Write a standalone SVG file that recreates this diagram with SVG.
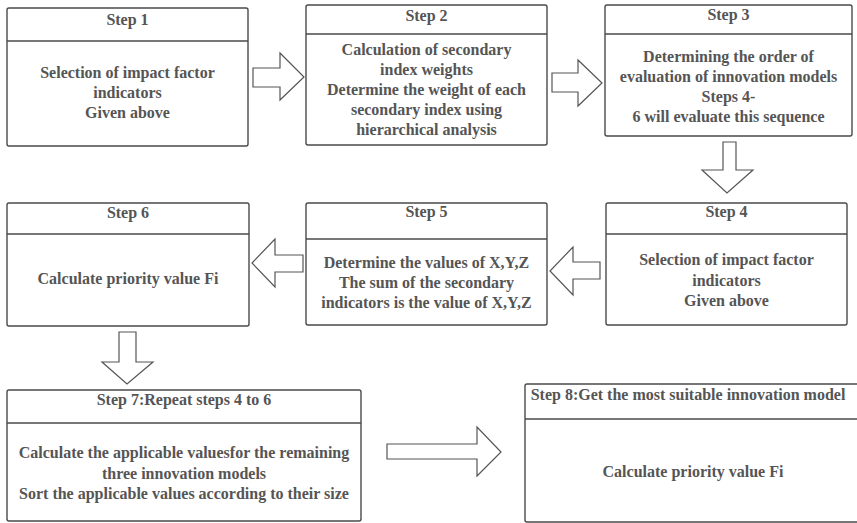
<svg xmlns="http://www.w3.org/2000/svg" width="857" height="523" viewBox="0 0 857 523">
<defs>
<style>
.box{fill:#fff;stroke:#4a4a4a;stroke-width:1.4}
.div{stroke:#4a4a4a;stroke-width:1.4}
.t{font-family:"Liberation Serif","Times New Roman",serif;font-weight:bold;font-size:16px;fill:#555;text-anchor:middle}
.arr{fill:#fff;stroke:#555;stroke-width:1.2;stroke-linejoin:miter}
</style>
</defs>
<rect width="857" height="523" fill="#fff"/>
<g id="connectors">
<polygon class="arr" points="253,68 280,68 280,53 304,77 280,100 280,87 253,87"/>
<polygon class="arr" points="552,73 578,73 578,60 602,83 578,106 578,92 552,92"/>
<polygon class="arr" points="723,142 736,142 736,170 753,170 727,193 702,170 723,170"/>
<polygon class="arr" points="600,262 573,262 573,247 550,271 573,295 573,279 600,279"/>
<polygon class="arr" points="303,255 275,255 275,239 252,263 275,287 275,272 303,272"/>
<polygon class="arr" points="119,332 136,332 136,362 153,362 127,384 102,362 119,362"/>
<polygon class="arr" points="387,444 477,444 477,427 501,452 477,476 477,459 387,459"/>
</g>
<g id="step1">
<rect class="box" x="7" y="8" width="241" height="138" rx="2"/>
<line class="div" x1="7" y1="41" x2="248" y2="41"/>
<text class="t" x="127.5" y="25">Step 1</text>
<text class="t" x="127.5" y="78">Selection of impact factor</text>
<text class="t" x="127.5" y="98">indicators</text>
<text class="t" x="127.5" y="118">Given above</text>
</g>
<g id="step2">
<rect class="box" x="306" y="5" width="241" height="140" rx="2"/>
<line class="div" x1="306" y1="34" x2="547" y2="34"/>
<text class="t" x="426.5" y="21">Step 2</text>
<text class="t" x="426.5" y="55">Calculation of secondary</text>
<text class="t" x="426.5" y="75">index weights</text>
<text class="t" x="426.5" y="95">Determine the weight of each</text>
<text class="t" x="426.5" y="115">secondary index using</text>
<text class="t" x="426.5" y="135">hierarchical analysis</text>
</g>
<g id="step3">
<rect class="box" x="605" y="5" width="247" height="131" rx="2"/>
<line class="div" x1="605" y1="34" x2="852" y2="34"/>
<text class="t" x="728.5" y="20">Step 3</text>
<text class="t" x="728.5" y="62">Determining the order of</text>
<text class="t" x="728.5" y="82">evaluation of innovation models</text>
<text class="t" x="728.5" y="102">Steps 4-</text>
<text class="t" x="728.5" y="122">6 will evaluate this sequence</text>
</g>
<g id="step4">
<rect class="box" x="606" y="203" width="241" height="122" rx="2"/>
<line class="div" x1="606" y1="234" x2="847" y2="234"/>
<text class="t" x="726.5" y="217">Step 4</text>
<text class="t" x="726.5" y="265">Selection of impact factor</text>
<text class="t" x="726.5" y="286">indicators</text>
<text class="t" x="726.5" y="306">Given above</text>
</g>
<g id="step5">
<rect class="box" x="306" y="203" width="241" height="122" rx="2"/>
<line class="div" x1="306" y1="239" x2="547" y2="239"/>
<text class="t" x="426.5" y="217">Step 5</text>
<text class="t" x="426.5" y="268">Determine the values of X,Y,Z</text>
<text class="t" x="426.5" y="288">The sum of the secondary</text>
<text class="t" x="426.5" y="308">indicators is the value of X,Y,Z</text>
</g>
<g id="step6">
<rect class="box" x="7" y="203" width="242" height="123" rx="2"/>
<line class="div" x1="7" y1="234" x2="249" y2="234"/>
<text class="t" x="128" y="218">Step 6</text>
<text class="t" x="128" y="284">Calculate priority value Fi</text>
</g>
<g id="step7">
<rect class="box" x="7" y="390" width="354" height="131" rx="2"/>
<line class="div" x1="7" y1="423" x2="361" y2="423"/>
<text class="t" x="184" y="405">Step 7:Repeat steps 4 to 6</text>
<text class="t" x="184" y="458">Calculate the applicable valuesfor the remaining</text>
<text class="t" x="184" y="479">three innovation models</text>
<text class="t" x="184" y="499">Sort the applicable values according to their size</text>
</g>
<g id="step8">
<rect class="box" x="525" y="384" width="345" height="138" rx="2"/>
<line class="div" x1="525" y1="419" x2="870" y2="419"/>
<text class="t" x="688" y="400">Step 8:Get the most suitable innovation model</text>
<text class="t" x="693" y="477">Calculate priority value Fi</text>
</g>
</svg>
